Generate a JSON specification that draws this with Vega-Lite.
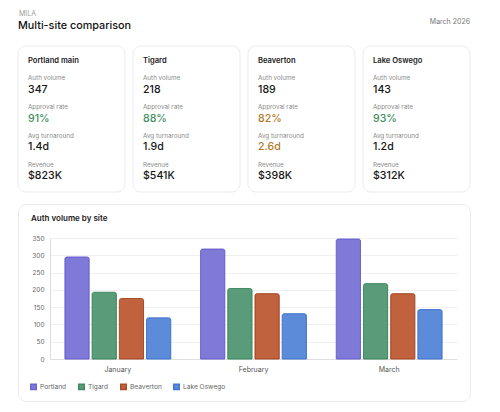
{
  "$schema": "https://vega.github.io/schema/vega-lite/v6.json",
  "padding": {"left": 17, "top": 0, "right": 8, "bottom": 0},
  "background": "white",
  "config": {"font": "Inter", "view": {"stroke": null}},
  "resolve": {
    "scale": {"color": "independent", "stroke": "independent", "x": "independent", "y": "independent"},
    "legend": {"color": "independent", "stroke": "independent"}
  },
  "datasets": {
    "meta": [
      {"org": "MILA", "page": "Multi-site comparison", "period": "March 2026"}
    ],
    "cards": [
      {"site": "Portland main", "metric": "Auth volume", "value": "347", "status": "neutral"},
      {"site": "Portland main", "metric": "Approval rate", "value": "91%", "status": "good"},
      {"site": "Portland main", "metric": "Avg turnaround", "value": "1.4d", "status": "neutral"},
      {"site": "Portland main", "metric": "Revenue", "value": "$823K", "status": "neutral"},
      {"site": "Tigard", "metric": "Auth volume", "value": "218", "status": "neutral"},
      {"site": "Tigard", "metric": "Approval rate", "value": "88%", "status": "good"},
      {"site": "Tigard", "metric": "Avg turnaround", "value": "1.9d", "status": "neutral"},
      {"site": "Tigard", "metric": "Revenue", "value": "$541K", "status": "neutral"},
      {"site": "Beaverton", "metric": "Auth volume", "value": "189", "status": "neutral"},
      {"site": "Beaverton", "metric": "Approval rate", "value": "82%", "status": "warn"},
      {"site": "Beaverton", "metric": "Avg turnaround", "value": "2.6d", "status": "warn"},
      {"site": "Beaverton", "metric": "Revenue", "value": "$398K", "status": "neutral"},
      {"site": "Lake Oswego", "metric": "Auth volume", "value": "143", "status": "neutral"},
      {"site": "Lake Oswego", "metric": "Approval rate", "value": "93%", "status": "good"},
      {"site": "Lake Oswego", "metric": "Avg turnaround", "value": "1.2d", "status": "neutral"},
      {"site": "Lake Oswego", "metric": "Revenue", "value": "$312K", "status": "neutral"}
    ],
    "volume": [
      {"month": "January", "site": "Portland", "volume": 295},
      {"month": "January", "site": "Tigard", "volume": 193},
      {"month": "January", "site": "Beaverton", "volume": 175},
      {"month": "January", "site": "Lake Oswego", "volume": 119},
      {"month": "February", "site": "Portland", "volume": 318},
      {"month": "February", "site": "Tigard", "volume": 204},
      {"month": "February", "site": "Beaverton", "volume": 189},
      {"month": "February", "site": "Lake Oswego", "volume": 131},
      {"month": "March", "site": "Portland", "volume": 347},
      {"month": "March", "site": "Tigard", "volume": 218},
      {"month": "March", "site": "Beaverton", "volume": 189},
      {"month": "March", "site": "Lake Oswego", "volume": 143}
    ]
  },
  "spacing": 10,
  "vconcat": [
    {
      "data": {"name": "meta"},
      "width": 452,
      "height": 35,
      "layer": [
        {
          "mark": {"type": "text", "align": "left", "baseline": "middle", "fontSize": 7, "color": "#9a9a9a"},
          "encoding": {"x": {"value": 1}, "y": {"value": 14}, "text": {"field": "org"}}
        },
        {
          "mark": {"type": "text", "align": "left", "baseline": "middle", "fontSize": 10.8, "fontWeight": 500, "color": "#111111"},
          "encoding": {"x": {"value": 0}, "y": {"value": 26}, "text": {"field": "page"}}
        },
        {
          "mark": {"type": "text", "align": "right", "baseline": "middle", "fontSize": 7, "color": "#777777"},
          "encoding": {"x": {"value": "width"}, "y": {"value": 21.5}, "text": {"field": "period"}}
        }
      ]
    },
    {
      "data": {"name": "cards"},
      "width": 452,
      "height": 146,
      "encoding": {
        "x": {
          "field": "site",
          "type": "nominal",
          "bandPosition": 0,
          "sort": ["Portland main", "Tigard", "Beaverton", "Lake Oswego"],
          "scale": {"type": "band", "paddingInner": 0.0696, "paddingOuter": 0},
          "axis": null
        }
      },
      "layer": [
        {
          "transform": [{"filter": "datum.metric === 'Auth volume'"}],
          "mark": {"type": "bar", "fill": "white", "stroke": "#ebebeb", "strokeWidth": 1, "cornerRadius": 8},
          "encoding": {
            "x": {
              "field": "site",
              "type": "nominal",
              "sort": ["Portland main", "Tigard", "Beaverton", "Lake Oswego"],
              "scale": {"type": "band", "paddingInner": 0.0696, "paddingOuter": 0},
              "axis": null
            }
          }
        },
        {
          "transform": [{"filter": "datum.metric === 'Auth volume'"}],
          "mark": {"type": "text", "align": "left", "baseline": "middle", "dx": 10, "dy": 6, "fontSize": 7.6, "fontWeight": 600, "color": "#1a1a1a"},
          "encoding": {
            "y": {
              "datum": "Site",
              "type": "ordinal",
              "scale": {"type": "point", "domain": ["Site", "Auth volume", "Approval rate", "Avg turnaround", "Revenue"], "range": [9, 124], "padding": 0},
              "axis": null
            },
            "text": {"field": "site"}
          }
        },
        {
          "mark": {"type": "text", "align": "left", "baseline": "middle", "dx": 10, "dy": -5.5, "fontSize": 6.3, "color": "#8a8a8a"},
          "encoding": {
            "y": {
              "field": "metric",
              "type": "ordinal",
              "scale": {"type": "point", "domain": ["Site", "Auth volume", "Approval rate", "Avg turnaround", "Revenue"], "range": [9, 124], "padding": 0},
              "axis": null
            },
            "text": {"field": "metric"}
          }
        },
        {
          "mark": {"type": "text", "align": "left", "baseline": "middle", "dx": 10, "dy": 6, "fontSize": 10.6, "fontWeight": 500},
          "encoding": {
            "y": {
              "field": "metric",
              "type": "ordinal",
              "scale": {"type": "point", "domain": ["Site", "Auth volume", "Approval rate", "Avg turnaround", "Revenue"], "range": [9, 124], "padding": 0},
              "axis": null
            },
            "text": {"field": "value"},
            "color": {
              "field": "status",
              "type": "nominal",
              "scale": {"domain": ["good", "warn", "neutral"], "range": ["#3d8f5e", "#b07a26", "#161616"]},
              "legend": null
            }
          }
        }
      ]
    },
    {
      "data": {"name": "volume"},
      "width": 452,
      "height": 197,
      "view": {"stroke": "#ebebeb", "cornerRadius": 8, "fill": "white"},
      "title": {"text": "Auth volume by site", "anchor": "start", "dx": 13, "offset": -19, "fontSize": 8, "fontWeight": 600, "color": "#1a1a1a"},
      "mark": {"type": "bar", "cornerRadiusTopLeft": 2, "cornerRadiusTopRight": 2, "strokeWidth": 1},
      "encoding": {
        "x": {
          "field": "month",
          "type": "nominal",
          "sort": ["January", "February", "March"],
          "scale": {"range": [32, 439], "paddingInner": 0.22, "paddingOuter": 0.11},
          "axis": {"title": null, "labelAngle": 0, "offset": -42, "ticks": false, "domainColor": "#dedede", "labelFontSize": 7, "labelColor": "#555555", "labelPadding": 6}
        },
        "xOffset": {
          "field": "site",
          "type": "nominal",
          "sort": ["Portland", "Tigard", "Beaverton", "Lake Oswego"],
          "scale": {"paddingInner": 0.11, "paddingOuter": 0}
        },
        "y": {
          "field": "volume",
          "type": "quantitative",
          "scale": {"domain": [0, 350], "range": [155, 34], "nice": false},
          "axis": {"title": null, "offset": -32, "values": [0, 50, 100, 150, 200, 250, 300, 350], "ticks": false, "domainColor": "#dedede", "gridColor": "#f0f0f0", "labelFontSize": 6.5, "labelColor": "#666666", "labelPadding": 6}
        },
        "color": {
          "field": "site",
          "type": "nominal",
          "scale": {"domain": ["Portland", "Tigard", "Beaverton", "Lake Oswego"], "range": ["#7f7ad8", "#5a9c7a", "#c0623e", "#5b8bd9"]},
          "legend": {"title": null, "orient": "none", "legendX": 12, "legendY": 179, "direction": "horizontal", "symbolType": "square", "symbolSize": 30, "labelFontSize": 6.6, "labelColor": "#666666", "columnPadding": 8, "labelOffset": 3, "padding": 0}
        },
        "stroke": {
          "field": "site",
          "type": "nominal",
          "scale": {"domain": ["Portland", "Tigard", "Beaverton", "Lake Oswego"], "range": ["#6b63d0", "#3f8a62", "#a94c2a", "#4576d0"]},
          "legend": {"title": null, "orient": "none", "legendX": 12, "legendY": 179, "direction": "horizontal", "symbolType": "square", "symbolSize": 30, "labelFontSize": 6.6, "labelColor": "#666666", "columnPadding": 8, "labelOffset": 3, "padding": 0}
        }
      }
    },
    {
      "data": {"name": "meta"},
      "width": 452,
      "height": 1,
      "mark": {"type": "rule", "color": "#efefef", "strokeWidth": 1},
      "encoding": {"x": {"value": 5}, "x2": {"value": 447}, "y": {"value": 0}}
    }
  ]
}
